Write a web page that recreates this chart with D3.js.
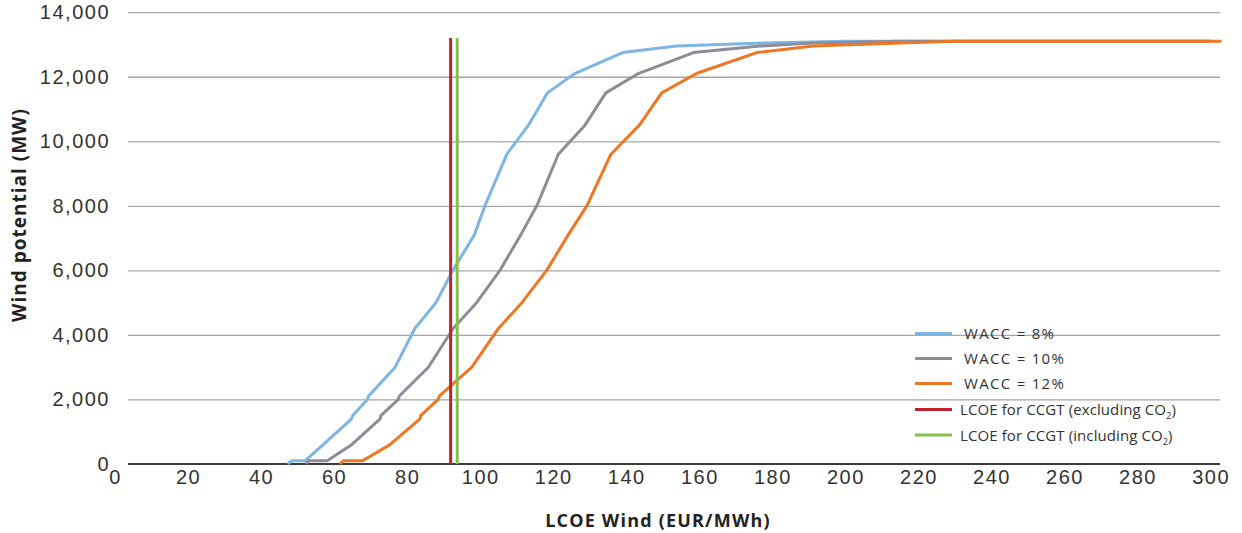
<!DOCTYPE html>
<html>
<head>
<meta charset="utf-8">
<script src="https://cdn.jsdelivr.net/npm/d3@7"></script>
<style>
  html, body { margin: 0; padding: 0; background: #ffffff; }
  svg { display: block; font-family: "Open Sans", sans-serif; }
</style>
</head>
<body>
<svg id="chart" width="1242" height="533"></svg>
<script>
// ---- data ----
const xTickValues = [0, 20, 40, 60, 80, 100, 120, 140, 160, 180, 200, 220, 240, 260, 280, 300];
const yTickValues = [0, 2000, 4000, 6000, 8000, 10000, 12000, 14000];

const seriesNames = ["WACC = 8%", "WACC = 10%", "WACC = 12%"];
// cumulative wind potential (MW) at each step of the supply curve
const potentialMW = [0, 100, 100, 600, 1400, 1500, 2000, 2100, 3000, 4200, 5000, 6000, 7100, 8000, 9600, 10500, 11500, 12100, 12750, 12950, 13050, 13100, 13100];
// LCOE (EUR/MWh) for each step, per WACC
const lcoeWacc8  = [47.2, 48.5, 52.0, 57.0, 64.8, 65.1, 69.1, 69.4, 76.7, 82.1, 87.9, 92.5, 98.4, 101.3, 107.3, 113.2, 118.4, 125.9, 139.0, 153.8, 178.0, 200.0, 300.0];
const lcoeWacc10 = [52.3, 53.0, 58.1, 64.8, 72.6, 72.8, 77.6, 77.8, 85.8, 92.6, 99.0, 105.4, 111.1, 115.5, 121.4, 128.7, 134.4, 143.3, 158.4, 176.6, 192.1, 215.0, 300.0];
const lcoeWacc12 = [61.6, 62.5, 67.8, 75.3, 83.5, 83.7, 88.5, 88.8, 97.7, 105.0, 111.4, 118.2, 124.1, 129.2, 135.8, 143.6, 149.7, 159.2, 175.7, 191.2, 215.0, 230.0, 303.0];

const ccgtNames = ["LCOE for CCGT (excluding CO", "LCOE for CCGT (including CO"];
const ccgtLCOE = [91.9, 93.7];
const ccgtTopMW = 13200;

const xTitle = "LCOE Wind (EUR/MWh)";
const yTitle = "Wind potential (MW)";

// ---- styles ----
const seriesColors = ["#7db6e2", "#8d8c99", "#ef7622"];
const ccgtColors = ["#c3202f", "#85bf4e"];

const svg = d3.select("#chart");
const plotLeft = 128, plotRight = 1220;

const x = d3.scaleLinear().domain([0, 300]).range([115, 1210.6]);
const y = d3.scaleLinear().domain([0, 14000]).range([464, 464 - 14000 * 0.03227]);

// gridlines + y labels
const yAxis = d3.axisLeft(y)
  .tickValues(yTickValues)
  .tickSize(-(plotRight - plotLeft))
  .tickPadding(18)
  .tickFormat(d3.format(","));
const gy = svg.append("g")
  .attr("transform", `translate(${plotLeft},0)`)
  .call(yAxis);
gy.select(".domain").remove();
gy.selectAll(".tick line").attr("stroke", "#a6a6a6").attr("stroke-width", 1.3)
  .filter(d => d === 0).remove();
gy.selectAll(".tick text")
  .attr("fill", "#333")
  .style("font-size", "20px")
  .style("letter-spacing", "1.5px");

// x labels
const xAxis = d3.axisBottom(x).tickValues(xTickValues).tickSize(0).tickPadding(6);
const gx = svg.append("g")
  .attr("transform", `translate(0,${y(0)})`)
  .call(xAxis);
gx.select(".domain").remove();
gx.selectAll(".tick text")
  .attr("fill", "#333")
  .style("font-size", "20px")
  .style("letter-spacing", "1.5px");

// baseline
svg.append("line")
  .attr("x1", plotLeft).attr("x2", plotRight)
  .attr("y1", y(0)).attr("y2", y(0))
  .attr("stroke", "#3a3a3a").attr("stroke-width", 1.8);

// curves
const allSeries = [lcoeWacc8, lcoeWacc10, lcoeWacc12];
const line = d3.line().x(d => x(d[0])).y(d => y(d[1]));
allSeries.forEach((vals, i) => {
  const pts = vals.map((v, k) => [v, potentialMW[k]]);
  svg.append("path")
    .datum(pts)
    .attr("d", line)
    .attr("fill", "none")
    .attr("stroke", seriesColors[i])
    .attr("stroke-width", 3)
    .attr("stroke-linejoin", "round");
});

// CCGT vertical lines
ccgtLCOE.forEach((v, i) => {
  svg.append("line")
    .attr("x1", x(v)).attr("x2", x(v))
    .attr("y1", y(0)).attr("y2", y(ccgtTopMW))
    .attr("stroke", ccgtColors[i]).attr("stroke-width", 3);
});

// legend
const legend = svg.append("g").style("font-size", "15px").attr("fill", "#333");
const legendRows = [
  { label: seriesNames[0], color: seriesColors[0], y: 333.5, tx: 964, sub: false, ls: 1.3 },
  { label: seriesNames[1], color: seriesColors[1], y: 358.5, tx: 964, sub: false, ls: 1.3 },
  { label: seriesNames[2], color: seriesColors[2], y: 383.5, tx: 964, sub: false, ls: 1.3 },
  { label: ccgtNames[0], color: ccgtColors[0], y: 409.5, tx: 960, sub: true, ls: 0.1 },
  { label: ccgtNames[1], color: ccgtColors[1], y: 435, tx: 960, sub: true, ls: 0.1 }
];
legendRows.forEach(r => {
  legend.append("line")
    .attr("x1", 915).attr("x2", 952)
    .attr("y1", r.y).attr("y2", r.y)
    .attr("stroke", r.color).attr("stroke-width", 3);
  const t = legend.append("text")
    .attr("x", r.tx).attr("y", r.y + 5.5)
    .attr("fill", "#333")
    .style("letter-spacing", r.ls + "px")
    .text(r.label);
  if (r.sub) {
    t.append("tspan").attr("dy", 4).style("font-size", "9px").text("2");
    t.append("tspan").attr("dy", -4).text(")");
  }
});

// axis titles
svg.append("text")
  .attr("x", 658).attr("y", 527)
  .attr("text-anchor", "middle")
  .attr("fill", "#222")
  .style("font-size", "18px").style("font-weight", "700")
  .style("letter-spacing", "1.2px")
  .text(xTitle);

svg.append("text")
  .attr("transform", "translate(26,215) rotate(-90)")
  .attr("text-anchor", "middle")
  .attr("fill", "#222")
  .style("font-size", "19px").style("font-weight", "700")
  .style("letter-spacing", "1px")
  .text(yTitle);
</script>
</body>
</html>
